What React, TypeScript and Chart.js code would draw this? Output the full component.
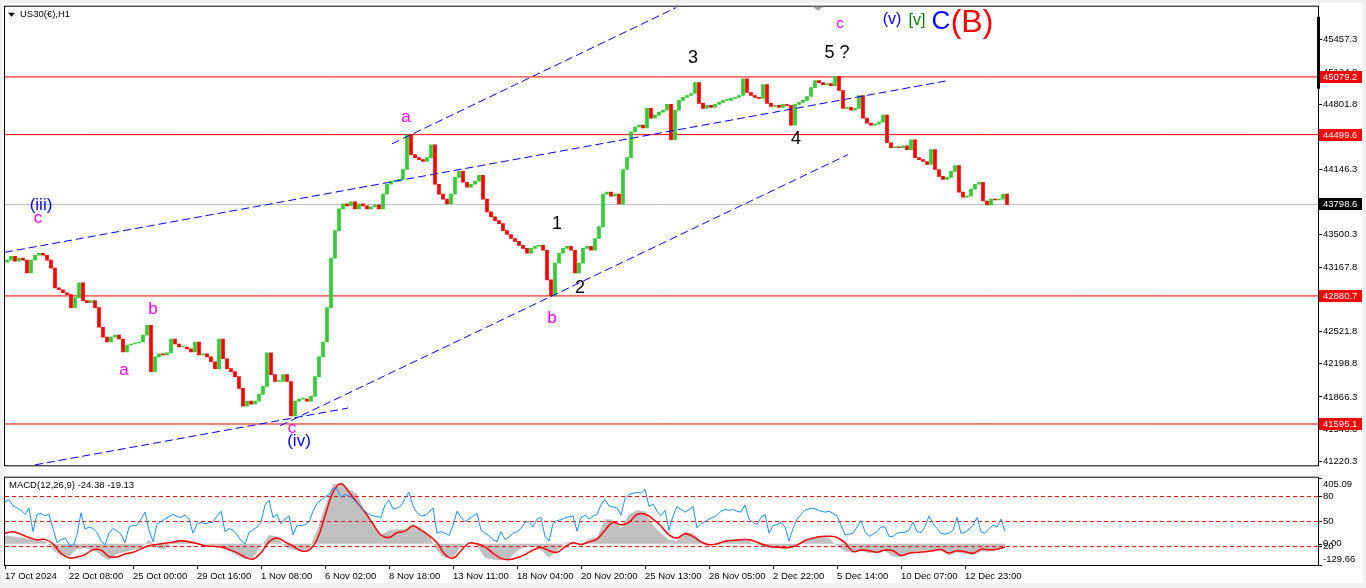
import React, { useEffect, useRef } from 'react';
import { Chart, registerables } from 'chart.js';

Chart.register(...registerables);

const FONT = '"Liberation Sans", Arial, Helvetica, sans-serif';
Chart.defaults.font.family = FONT;

// ---------- DATA ----------
// H1 chart, one candle per 4 hours (closes); first open separately
const firstOpen = 43220;
const closes = [
  43240, 43279, 43230, 43260, 43240, 43111, 43240, 43289, 43309, 43289,
  43240, 43160, 42962, 42943, 42913, 42893, 42764, 42863, 43012, 42834,
  42814, 42834, 42764, 42566, 42467, 42418, 42467, 42487, 42448, 42319,
  42388, 42398, 42408, 42418, 42487, 42586, 42121, 42269, 42299, 42289,
  42309, 42448, 42398, 42368, 42368, 42349, 42319, 42418, 42289, 42299,
  42269, 42220, 42151, 42448, 42250, 42151, 42121, 42071, 41953, 41774,
  41824, 41794, 41824, 41893, 41972, 42309, 42091, 42022, 42022, 42091,
  42022, 41675, 41824, 41844, 41844, 41824, 41873, 42071, 42269, 42418,
  42764, 43260, 43537, 43754, 43804, 43784, 43824, 43754, 43804, 43784,
  43754, 43774, 43794, 43754, 43903, 44002, 44032, 44032, 44051, 44150,
  44497, 44299, 44269, 44249, 44230, 44269, 44398, 44002, 43903, 43853,
  43804, 43903, 44071, 44131, 44022, 43972, 44002, 44032, 44091, 43853,
  43725, 43675, 43636, 43606, 43537, 43497, 43457, 43428, 43388, 43358,
  43309, 43358, 43378, 43388, 43339, 43042, 42883, 43210, 43309, 43358,
  43378, 43339, 43111, 43210, 43358, 43378, 43339, 43457, 43576, 43903,
  43923, 43883, 43903, 43804, 44150, 44269, 44527, 44576, 44596, 44566,
  44764, 44665, 44695, 44725, 44745, 44804, 44448, 44745, 44844, 44873,
  44893, 44913, 45022, 44814, 44764, 44794, 44774, 44804, 44824, 44844,
  44844, 44863, 44873, 44893, 45061, 44923, 44893, 44873, 44863, 45002,
  44814, 44784, 44794, 44774, 44804, 44794, 44596, 44804, 44824, 44844,
  44883, 44972, 45042, 45022, 45002, 45012, 44992, 45085, 44943, 44764,
  44774, 44745, 44764, 44893, 44665, 44616, 44596, 44606, 44626, 44695,
  44418, 44368, 44378, 44368, 44388, 44349, 44448, 44269, 44249, 44230,
  44200, 44349, 44150, 44081, 44051, 44071, 44131, 44190, 43923, 43873,
  43883, 43953, 44002, 44022, 43834, 43794, 43853, 43844, 43853, 43903,
  43798.6,
];

const priceTicks = [
  45457.3, 45124.8, 44801.8, 44478.8, 44146.3, 43823.3, 43500.3,
  43167.8, 42844.8, 42521.8, 42198.8, 41866.3, 41543.3, 41220.3,
];
const levelPrices = [45079.2, 44499.6, 42880.7, 41595.1];
const lastPrice = 43798.6;

// trend lines (hour index, price)
const trendStartHour = [0, 387, 275, 30];
const trendStartPrice = [43319, 44408, 41577, 41185];
const trendEndHour = [943, 671, 843, 343];
const trendEndPrice = [45042, 45774, 44299, 41755];

// wave labels
const waveText = ['(iii)', 'c', 'a', 'b', 'a', 'c', '(iv)', '1', '2', 'b', '3', '4', '5 ?', 'c', '(v)', '[v]', 'C', '(B)'];
const waveHour = [36, 33, 401, 148, 119, 287, 294, 552, 575, 547, 688, 791, 832, 835, 887, 912, 936, 967];
const wavePrice = [43794, 43656, 44675, 42745, 42131, 41547, 41418, 43606, 42962, 42656, 45269, 44457, 45319, 45616, 45655, 45645, 45635, 45616];

// time axis
const timeLabels = [
  '17 Oct 2024', '22 Oct 08:00', '25 Oct 00:00', '29 Oct 16:00', '1 Nov 08:00', '6 Nov 02:00',
  '8 Nov 18:00', '13 Nov 11:00', '18 Nov 04:00', '20 Nov 20:00', '25 Nov 13:00', '28 Nov 05:00',
  '2 Dec 22:00', '5 Dec 14:00', '10 Dec 07:00', '12 Dec 23:00',
];
const timeLabelHours = [0, 64, 128, 192, 256, 320, 384, 448, 512, 576, 640, 704, 768, 832, 896, 960];

// MACD (one value per 8 hours)
const macdMain = [
  50.6, 44.8, 38.9, 31.2, 25.4, 15.7, -38.5, -71.5, -77.3, -32.7,
  -26.9, -34.7, -71.5, -100.6, -61.8, -48.2, -38.5, -26.9, 25.4, -26.9,
  -34.7, 19.6, 25.4, 19.6, 6.0, -3.7, -7.6, -13.4, -42.4, -71.5,
  -92.8, -85.1, -13.4, 54.4, 44.8, -19.2, -38.5, -38.5, -34.7, 83.5,
  228.8, 364.4, 374.1, 335.6, 306.5, 190.1, 122.2, 54.4, 83.5, 89.3,
  89.3, 122.2, 93.2, 54.4, -42.4, -85.1,
  -85.1, -13.4, 7.9, -13.4, -85.1, -96.7, -100.6, -92.8, -42.4, -19.2,
  -15.3, -38.5, -85.1, -42.4, 6.0, 11.8, -7.6, 31.2, 38.9, 151.3,
  147.4, 93.2, 180.4, 205.6, 199.8, 112.6, 64.1, 25.4, 19.6, 73.8,
  64.1, 15.7, -7.6, -7.6, 19.6, 25.4, 25.4, 19.6, -7.6, -23.1,
  -26.9, -23.1, -19.2, -7.6, 31.2, 40.9, 44.8, 35.1, -13.4, -46.3,
  -54.1, -42.4, -57.9, -50.2, -42.4,
  -77.3, -81.2, -57.9, -42.4, -42.4, -38.5, -42.4, -71.5, -52.1, -61.8,
  -69.6, -46.3, -48.2, -38.5, -24.38,
];
const macdSignal = [
  64.1, 73.8, 58.3, 38.9, 25.4, 27.3, 0.2, -57.9, -85.1, -81.2,
  -65.7, -36.6, -38.5, -77.3, -81.2, -61.8, -52.1, -30.8, -11.4, -3.7,
  4.1, 9.9, 19.6, 11.8, 2.1, -11.4, -15.3, -19.2, -34.7, -54.1,
  -81.2, -92.8, -54.1, 11.8, 35.1, 11.8, -13.4, -42.4, -38.5, 25.4,
  170.7, 316.0, 368.3, 316.0, 254.0, 193.9, 122.2, 54.4, 38.9, 68.0,
  77.7, 108.7, 83.5, 50.6, 6.0, -65.7,
  -88.9, -42.4, 4.1, 0.2, -19.2, -57.9, -88.9, -96.7, -85.1, -65.7,
  -38.5, -23.1, -42.4, -52.1, -19.2, 6.0, -3.7, 11.8, 29.3, 83.5,
  131.9, 116.4, 131.9, 180.4, 182.3, 151.3, 108.7, 54.4, 35.1, 62.2,
  44.8, 11.8, -5.6, 0.2, 15.7, 21.5, 25.4, 25.4, 9.9, -7.6,
  -19.2, -23.1, -23.1, -7.6, 19.6, 35.1, 44.8, 46.7, 38.9, 6.0,
  -46.3, -38.5, -42.4, -52.1, -38.5,
  -42.4, -71.5, -57.9, -52.1, -48.2, -42.4, -34.7, -56.0, -42.4, -48.2,
  -57.9, -32.7, -36.6, -32.7, -19.13,
];
const macdScaleLabels = [405.09, 0, -129.66];

// oscillator (blue, one value per 4 hours) and its levels
const oscValues = [
  73.7, 76.4, 68.8, 66.2, 63.6, 58.6, 66.2, 37.9, 58.6, 59.8,
  56.8, 58.6, 41.7, 24.7, 28.4, 30.3, 22.8, 19.8, 34.1, 60.5,
  40.9, 43.5, 41.7, 37.1, 26.6, 22.0, 36.0, 41.7, 38.6, 34.9,
  24.7, 43.5, 45.4, 45.4, 53.0, 61.3, 39.8, 25.8, 47.3, 50.0,
  53.0, 56.0, 58.6, 56.0, 54.9, 57.5, 53.0, 36.0, 47.3, 49.2,
  47.3, 48.5, 49.2, 56.8, 62.4, 37.9, 41.7, 39.8, 34.1, 27.3,
  22.8, 37.1, 39.8, 43.5, 49.2, 70.0, 75.6, 54.9, 58.6, 47.3,
  53.0, 56.8, 34.1, 45.4, 45.4, 46.2, 49.2, 62.4, 71.9, 75.6,
  79.4, 82.4, 90.0, 88.8, 79.4, 82.4, 81.3, 77.5, 71.9, 67.3,
  62.4, 58.6, 56.8, 56.0, 54.9, 70.0, 75.6, 65.1, 66.2, 68.8,
  77.5, 85.1, 68.8, 60.5, 56.8, 57.5, 61.3, 66.2, 36.0, 37.9,
  36.0, 33.4, 45.4, 62.4, 54.9, 50.0, 53.0, 56.8, 59.8, 39.8,
  36.0, 33.0, 28.4, 25.8, 37.9, 28.4, 31.1, 36.0, 37.9, 41.7,
  49.2, 50.0, 43.5, 53.0, 54.9, 32.2, 26.6, 47.3, 51.1, 52.2,
  54.5, 55.6, 56.8, 38.6, 54.9, 57.5, 53.0, 56.8, 58.6, 70.0,
  76.4, 68.8, 67.3, 66.2, 57.5, 77.5, 82.4, 83.9, 85.1, 83.9,
  88.8, 68.1, 71.1, 62.4, 56.8, 63.6, 39.8, 56.8, 68.1, 64.3,
  61.3, 64.3, 68.1, 42.4, 47.3, 50.0, 53.0, 54.9, 57.5, 62.4,
  64.3, 63.6, 64.3, 62.4, 61.3, 70.0, 53.0, 49.2, 46.2, 54.9,
  58.6, 36.0, 45.4, 46.2, 49.2, 43.5, 26.6, 41.7, 53.0, 58.6,
  63.6, 65.1, 66.2, 64.3, 62.4, 61.3, 62.4, 59.8, 56.8, 45.4,
  34.1, 34.9, 36.0, 43.5, 51.1, 37.9, 32.2, 34.9, 37.9, 43.5,
  43.5, 32.2, 32.2, 36.0, 37.1, 37.1, 39.8, 49.2, 37.9, 36.7,
  43.5, 56.8, 47.3, 41.7, 36.0, 34.9, 36.0, 39.8, 54.9, 36.0,
  37.1, 40.9, 45.4, 54.9, 37.9, 36.0, 41.7, 45.4, 43.5, 53.0,
  37.9,
];
const oscLevels = [80, 50, 20];

// ---------- STYLE ----------
const HOURS = 1313;
const UP = '#32CD32';
const DOWN = '#FF0000';
const MAGENTA = '#FF00FF';
const BLUE = '#0000FF';
const waveStyle: { color: string; size: number }[] = [
  { color: BLUE, size: 17 }, { color: MAGENTA, size: 17 }, { color: MAGENTA, size: 17 },
  { color: MAGENTA, size: 17 }, { color: MAGENTA, size: 17 }, { color: MAGENTA, size: 17 },
  { color: BLUE, size: 17 }, { color: '#000', size: 18 }, { color: '#000', size: 18 },
  { color: MAGENTA, size: 17 }, { color: '#000', size: 18 }, { color: '#000', size: 18 },
  { color: '#000', size: 18 }, { color: MAGENTA, size: 15 }, { color: BLUE, size: 16 },
  { color: '#008000', size: 16 }, { color: BLUE, size: 26 }, { color: '#FF0000', size: 32 },
];
const tickFont = { size: 9.5, family: FONT };

const mainDecor = {
  id: 'mainDecor',
  afterDatasetsDraw(chart: any) {
    const { ctx, scales } = chart;
    const xs = scales.x;
    const ys = scales.y;
    ctx.save();
    ctx.textAlign = 'center';
    ctx.textBaseline = 'middle';
    waveText.forEach((t, i) => {
      const st = waveStyle[i];
      ctx.font = `${st.size}px ${FONT}`;
      ctx.fillStyle = st.color;
      ctx.fillText(t, xs.getPixelForValue(waveHour[i]), ys.getPixelForValue(wavePrice[i]));
    });
    ctx.restore();
  },
  afterDraw(chart: any) {
    const { ctx, chartArea: a, scales } = chart;
    const ys = scales.y;
    ctx.save();
    // frame
    ctx.strokeStyle = '#000';
    ctx.lineWidth = 1;
    ctx.strokeRect(a.left - 0.5, a.top - 0.5, a.right - a.left + 1, a.bottom - a.top + 1);
    // price boxes
    const box = (v: number, bg: string) => {
      const y = Math.round(ys.getPixelForValue(v));
      ctx.fillStyle = bg;
      ctx.fillRect(a.right + 1, y - 6, 43, 12);
      ctx.fillStyle = '#fff';
      ctx.font = `9.5px ${FONT}`;
      ctx.textAlign = 'left';
      ctx.textBaseline = 'middle';
      ctx.fillText(v.toFixed(1), a.right + 5, y + 0.5);
    };
    levelPrices.forEach((v) => box(v, '#FF0000'));
    box(lastPrice, '#000');
    // scroll marker on price axis
    ctx.fillStyle = '#000';
    ctx.fillRect(a.right - 1, a.top + 10, 3, 72);
    // shift marker
    ctx.fillStyle = '#A0A0A0';
    ctx.beginPath();
    ctx.moveTo(a.left + 808, a.top);
    ctx.lineTo(a.left + 818, a.top);
    ctx.lineTo(a.left + 813, a.top + 4);
    ctx.closePath();
    ctx.fill();
    // title
    ctx.fillStyle = '#000';
    ctx.beginPath();
    ctx.moveTo(a.left + 3, a.top + 6);
    ctx.lineTo(a.left + 10, a.top + 6);
    ctx.lineTo(a.left + 6.5, a.top + 10);
    ctx.closePath();
    ctx.fill();
    ctx.font = `9.5px ${FONT}`;
    ctx.textAlign = 'left';
    ctx.textBaseline = 'middle';
    ctx.fillText('US30(€),H1', a.left + 15, a.top + 8);
    ctx.restore();
  },
};

const subDecor = {
  id: 'subDecor',
  afterDraw(chart: any) {
    const { ctx, chartArea: a, scales } = chart;
    const ym = scales.yM;
    ctx.save();
    ctx.strokeStyle = '#000';
    ctx.lineWidth = 1;
    ctx.strokeRect(a.left - 0.5, a.top - 0.5, a.right - a.left + 1, a.bottom - a.top + 1);
    ctx.fillStyle = '#000';
    ctx.font = `9.5px ${FONT}`;
    ctx.textAlign = 'left';
    ctx.textBaseline = 'middle';
    const n = macdMain.length;
    ctx.fillText(
      `MACD(12,26,9) ${macdMain[n - 1].toFixed(2)} ${macdSignal[n - 1].toFixed(2)}`,
      a.left + 4,
      a.top + 8
    );
    macdScaleLabels.forEach((v) => {
      const py = ym.getPixelForValue(v);
      let ty = py;
      if (py < a.top + 7) ty = a.top + 7;
      if (py > a.bottom - 6) ty = a.bottom - 6;
      ctx.beginPath();
      ctx.moveTo(a.right, Math.round(py) + 0.5);
      ctx.lineTo(a.right + 4, Math.round(py) + 0.5);
      ctx.stroke();
      ctx.fillText(v.toFixed(2), a.right + 5, ty);
    });
    ctx.restore();
  },
};

export default function App() {
  const topRef = useRef<HTMLCanvasElement>(null);
  const botRef = useRef<HTMLCanvasElement>(null);

  useEffect(() => {
    const opens = closes.map((c, k) => (k === 0 ? firstOpen : closes[k - 1]));
    const candleData = closes.map((c, k) => ({ x: 4 * k + 2, y: [opens[k], c] }));
    const candleColors = closes.map((c, k) => (c >= opens[k] ? UP : DOWN));

    const levelSets = levelPrices.map((v) => ({
      type: 'line',
      data: [{ x: 0, y: v }, { x: HOURS, y: v }],
      borderColor: '#FF0000',
      borderWidth: 1,
      pointRadius: 0,
      order: 2,
    }));
    const trendSets = trendStartHour.map((h, i) => ({
      type: 'line',
      data: [{ x: h, y: trendStartPrice[i] }, { x: trendEndHour[i], y: trendEndPrice[i] }],
      borderColor: BLUE,
      borderWidth: 1,
      borderDash: [8, 4],
      pointRadius: 0,
      order: 0,
    }));

    const top = new Chart(topRef.current!, {
      type: 'bar',
      data: {
        datasets: [
          ...trendSets,
          {
            type: 'bar',
            data: candleData,
            backgroundColor: candleColors,
            borderWidth: 0,
            barThickness: 3,
            minBarLength: 1,
            grouped: false,
            order: 1,
          },
          ...levelSets,
          {
            type: 'line',
            data: [{ x: 0, y: lastPrice }, { x: HOURS, y: lastPrice }],
            borderColor: '#C0C0C0',
            borderWidth: 1,
            pointRadius: 0,
            order: 3,
          },
        ] as any,
      },
      options: {
        responsive: false,
        animation: false,
        devicePixelRatio: 1,
        events: [],
        layout: { padding: { left: 5, top: 5, right: 0, bottom: 2 } },
        plugins: { legend: { display: false }, tooltip: { enabled: false } },
        scales: {
          x: { type: 'linear', min: 0, max: HOURS, offset: false, display: false, grid: { offset: false } },
          y: {
            type: 'linear',
            position: 'right',
            min: 41180.5,
            max: 45784,
            afterBuildTicks: (s: any) => {
              s.ticks = priceTicks.map((v) => ({ value: v }));
            },
            afterFit: (s: any) => {
              s.width = 48;
            },
            ticks: {
              callback: (v: any) => Number(v).toFixed(1),
              color: '#000',
              font: tickFont,
              padding: 1,
              autoSkip: false,
            },
            grid: { drawOnChartArea: false, drawTicks: true, tickLength: 4, color: '#000', tickColor: '#000' },
            border: { display: false },
          },
        },
      } as any,
      plugins: [mainDecor],
    });

    const bottom = new Chart(botRef.current!, {
      type: 'line',
      data: {
        datasets: [
          {
            data: oscValues.map((v, i) => ({ x: 4 * i, y: v })),
            yAxisID: 'yR',
            borderColor: '#1E90FF',
            borderWidth: 1,
            pointRadius: 0,
            order: 0,
          },
          {
            data: macdSignal.map((v, j) => ({ x: 8 * j, y: v })),
            yAxisID: 'yM',
            borderColor: '#FF0000',
            borderWidth: 1.5,
            pointRadius: 0,
            tension: 0.4,
            order: 1,
          },
          ...oscLevels.map((v) => ({
            data: [{ x: 0, y: v }, { x: HOURS, y: v }],
            yAxisID: 'yR',
            borderColor: '#FF0000',
            borderWidth: 1,
            borderDash: [4, 3],
            pointRadius: 0,
            order: 2,
          })),
          {
            data: macdMain.map((v, j) => ({ x: 8 * j, y: v })),
            yAxisID: 'yM',
            borderColor: 'rgba(0,0,0,0)',
            borderWidth: 0,
            backgroundColor: '#C0C0C0',
            fill: 'origin',
            pointRadius: 0,
            order: 3,
          },
        ] as any,
      },
      options: {
        responsive: false,
        animation: false,
        devicePixelRatio: 1,
        events: [],
        layout: { padding: { left: 5, top: 2, right: 0, bottom: 0 } },
        plugins: { legend: { display: false }, tooltip: { enabled: false } },
        scales: {
          x: {
            type: 'linear',
            min: 0,
            max: HOURS,
            offset: false,
            afterBuildTicks: (s: any) => {
              s.ticks = timeLabelHours.map((v) => ({ value: v }));
            },
            afterFit: (s: any) => {
              s.height = 23;
            },
            ticks: {
              callback: (_v: any, i: number) => timeLabels[i],
              align: 'start',
              autoSkip: false,
              maxRotation: 0,
              minRotation: 0,
              padding: 2,
              color: '#000',
              font: tickFont,
            },
            grid: { drawOnChartArea: false, tickLength: 4, color: '#000', tickColor: '#000' },
            border: { display: false },
          },
          yM: { type: 'linear', display: false, min: -129.66, max: 405.09 },
          yR: {
            type: 'linear',
            position: 'right',
            min: -2.1,
            max: 102.6,
            afterBuildTicks: (s: any) => {
              s.ticks = oscLevels.map((v) => ({ value: v }));
            },
            afterFit: (s: any) => {
              s.width = 48;
            },
            ticks: { callback: (v: any) => String(v), padding: 1, color: '#000', font: tickFont, autoSkip: false },
            grid: { drawOnChartArea: false, tickLength: 4, color: '#000', tickColor: '#000' },
            border: { display: false },
          },
        },
      } as any,
      plugins: [subDecor],
    });

    return () => {
      top.destroy();
      bottom.destroy();
    };
  }, []);

  return (
    <div
      style={{
        position: 'absolute',
        left: 0,
        top: 0,
        width: 1366,
        height: 588,
        background: '#F0F0F0',
        overflow: 'hidden',
      }}
    >
      <div style={{ position: 'absolute', left: 3, top: 3, width: 1360, height: 580, background: '#FFFFFF' }} />
      <canvas ref={topRef} width={1366} height={472} style={{ position: 'absolute', left: 0, top: 0 }} />
      <canvas ref={botRef} width={1366} height={117} style={{ position: 'absolute', left: 0, top: 471 }} />
    </div>
  );
}
